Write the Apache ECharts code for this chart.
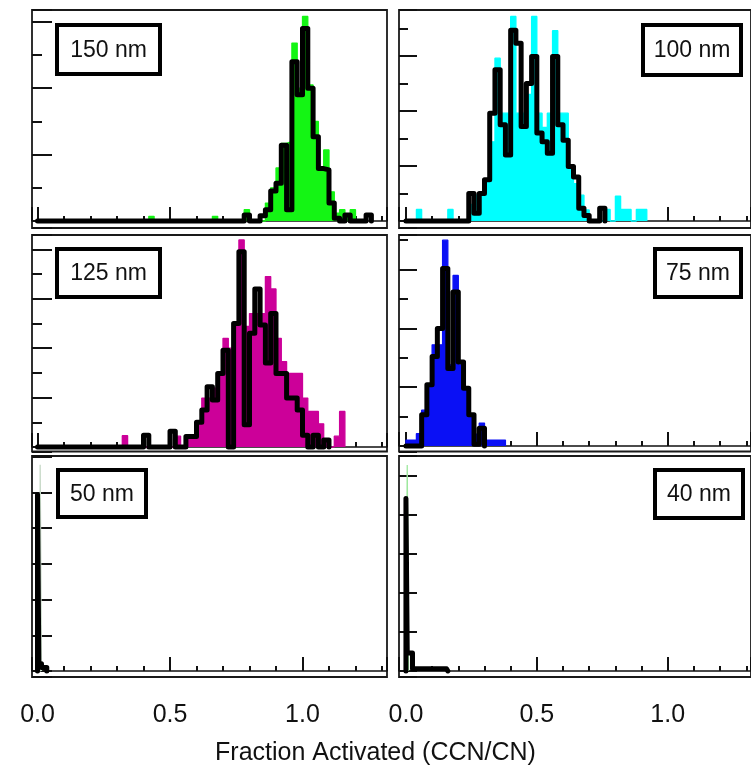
<!DOCTYPE html>
<html>
<head>
<meta charset="utf-8">
<script src="https://cdn.jsdelivr.net/npm/echarts@6/dist/echarts.min.js"></script>
<style>
html,body{margin:0;padding:0;background:#fff;}
#chart{width:751px;height:769px;}
</style>
</head>
<body>
<div id="chart"></div>
<script>
// ---------------- DATA (histogram bin values) ----------------
// Bin width in "Fraction Activated" units; bins start at 0.
const binWidth = 0.02;
const fineBinWidth = 0.005;   // narrow bins used in the 50 nm / 40 nm panels

const sizeLabels = ['150 nm', '100 nm', '125 nm', '75 nm', '50 nm', '40 nm'];
const xTickLabels = ['0.0', '0.5', '1.0'];
const xAxisTitle = 'Fraction Activated (CCN/CN)';

// 150 nm
const green150 = [0,0,0,0,0,0,0,0,0,0, 0,0,0,0,0,0,0,0,0,0, 0,0.7,0,0,0,0,0,0,0,0,
  0,0,0,0.7,0,0,0,0,0,1.7, 0,0,0,2.7,5,8,11.7,12,26.8,20,
  30.8,20.5,15,8,10.7,4.4,1.2,1.7,0.5,1.7, 0];
const black150 = [0,0,0,0,0,0,0,0,0,0, 0,0,0,0,0,0,0,0,0,0, 0,0,0,0,0,0,0,0,0,0,
  0,0,0,0,0,0,0,0,0,0.9, 0,0,0.8,1.7,4.5,5.7,11.4,1.7,24,19,
  29,20,12.7,7.9,7.7,2.7,0.4,0,0.9,0, 0,0,0.9];

// 100 nm
const cyan100 = [0,0,2.1,0,0,0,0,0,2.1,0, 0,0,3,4.7,5.3,7.5,14.4,29.6,19.6,19.6,
  37.2,19.6,19.6,23,37.2,19.6,17,19.6,34.6,19.6, 19.6,9.9,6.8,4.7,2,0,0,0,2.1,0,
  4.5,2.1,2.1,0,2.1,2.1];
const black100 = [0,0,0,0,0,0,0,0,0,0, 0,0,5,1.4,5,7.5,19.6,27.5,17.5,12,
  34.7,32.3,17.2,25,29.9,16,14.4,12.3,29.9,17.5, 14.7,9.9,8,2.3,1,0,0,2.3];

// 125 nm
const magenta125 = [0,0,0,0,0,0,0,0,0,0, 0,0,0,0,0,0,2.3,0,0,0,
  0,0,0,0,0,0,2.2,0,2.2,2.2, 4.6,9.9,9.9,11.9,14.9,22,20,24.7,41.9,24.4,
  27,27,27,34.5,32,22,17.3,14.9,14.9,14.9, 9.9,7.2,7.2,4.7,1.4,0,2.2,7.2];
const black125 = [0,0,0,0,0,0,0,0,0,0, 0,0,0,0,0,0,0,0,0,0,
  2.4,0,0,0,0,3.2,0,0,2.1,2.1, 5,7.5,12.2,9.5,14.9,19.6,0,25,39.5,4.5,
  23,32,24.7,17,27,14.9,14.9,9.9,9.9,7.5, 2.4,0,2.4,0,1.4];

// 75 nm
const blue75 = [1,1,2.1,6.1,10.4,17.2,17.2,35,13.8,29, 13.8,10,5,2,3.9,1,1,1,1];
const black75 = [0,0,0,5.3,10.4,15.2,20,30.2,13.2,26.2, 14.3,9.8,5.3,0.3,3];

// 50 nm (fine bins)
const grey50 = [0,0,28.9];
const black50 = [24.7,1,1,0.5,0.5,0.5,0.5];

// 40 nm (fine bins)
const green40 = [0,26.4];
const black40 = [22.1,2.3,2.3,2.3,2.3, 0.3,0.3,0.3,0.3,0.3,0.3,0.3,0.3,0.3,0.3,
  0.3,0.3,0.3,0.3,0.3,0.3,0.3,0.3,0.3,0.3, 0.3,0.3,0.3,0.3,0.3,0.3,0.3];

// ---------------- LAYOUT / STYLE ----------------
const FONT = "'Liberation Sans', Arial, Helvetica, sans-serif";
const panels = [
  { grid:{left:32, top:10, width:355, height:218}, x:[-0.0208,1.3189], y:[-1.054,31.78], yStep:10, yMinor:2,
    fill:green150, line:black150, w:binWidth, color:'#14f514', label:0,
    box:{x:57,y:25,w:103,h:49} },
  { grid:{left:399, top:10, width:355, height:218}, x:[-0.0265,1.318], y:[-1.273,38.36], yStep:10, yMinor:2,
    fill:cyan100, line:black100, w:binWidth, color:'#00ffff', label:1, tickLen:18,
    box:{x:643,y:25,w:98,h:50} },
  { grid:{left:32, top:235, width:355, height:216.5}, x:[-0.0208,1.3189], y:[-0.911,42.91], yStep:10, yMinor:2,
    fill:magenta125, line:black125, w:binWidth, color:'#cc0099', label:2,
    box:{x:57,y:249,w:103,h:48} },
  { grid:{left:399, top:235, width:355, height:216.5}, x:[-0.0265,1.318], y:[-0.935,35.88], yStep:10, yMinor:2,
    fill:blue75, line:black75, w:binWidth, color:'#0a10f5', label:3, tickLen:18,
    box:{x:655,y:249,w:86,h:48} },
  { grid:{left:32, top:456, width:355, height:221}, x:[-0.0208,1.3189], y:[-0.84,30.11], yStep:5, yMinor:0,
    fill:grey50, line:black50, w:fineBinWidth, color:'#c6d8c6', label:4, bottom:true,
    box:{x:58,y:470,w:88,h:47} },
  { grid:{left:399, top:456, width:355, height:221}, x:[-0.0265,1.318], y:[-0.77,27.56], yStep:5, yMinor:0,
    fill:green40, line:black40, w:fineBinWidth, color:'#9ee89e', label:5, bottom:true, tickLen:18,
    box:{x:655,y:470,w:88,h:48} }
];

function stepPoints(start, width, vals) {
  const pts = [[start, 0]];
  vals.forEach(function (v, i) { pts.push([+(start + i * width).toFixed(5), v]); });
  pts.push([+(start + vals.length * width).toFixed(5), 0]);
  return pts;
}

const grids = [], xAxes = [], yAxes = [], series = [], graphics = [];
panels.forEach(function (p, i) {
  grids.push(Object.assign({ show:true, borderColor:'#1a1a1a', borderWidth:1.8, backgroundColor:'#fff' }, p.grid));
  xAxes.push({
    type:'value', gridIndex:i, min:p.x[0], max:p.x[1], minInterval:0.5, maxInterval:0.5,
    axisLine:{ show:true, onZero:true, lineStyle:{ color:'#111', width:1.5 } },
    axisTick:{ show:true, inside:true, length:14, lineStyle:{ color:'#111', width:2 } },
    minorTick:{ show:true, splitNumber:5, length:5, lineStyle:{ color:'#111', width:2 } },
    splitLine:{ show:false }, minorSplitLine:{ show:false },
    axisLabel:{
      show: !!p.bottom, fontSize:25, fontFamily:FONT, color:'#111', margin:26,
      showMinLabel:false, showMaxLabel:false,
      formatter:function (v) {
        const k = Math.round(v * 2);
        return Math.abs(v * 2 - k) < 1e-6 && k >= 0 && k < xTickLabels.length ? xTickLabels[k] : '';
      }
    }
  });
  const tl = p.tickLen || 20;
  yAxes.push({
    type:'value', gridIndex:i, min:p.y[0], max:p.y[1], minInterval:p.yStep, maxInterval:p.yStep,
    axisLine:{ show:false, onZero:false },
    axisTick:{ show:true, inside:true, length:tl, lineStyle:{ color:'#111', width:2 } },
    minorTick:{ show:p.yMinor > 0, splitNumber:p.yMinor || 2, length:tl / 2, lineStyle:{ color:'#111', width:2 } },
    splitLine:{ show:false }, minorSplitLine:{ show:false },
    axisLabel:{ show:false }
  });
  series.push({
    type:'line', xAxisIndex:i, yAxisIndex:i, step:'end', symbol:'none', animation:false,
    data: stepPoints(0, p.w, p.fill),
    lineStyle:{ color:p.color, width:1.3 }, itemStyle:{ color:p.color },
    areaStyle:{ color:p.color, opacity:1 }, z:2
  });
  series.push({
    type:'line', xAxisIndex:i, yAxisIndex:i, step:'end', symbol:'none', animation:false,
    data: stepPoints(0, p.w, p.line),
    lineStyle:{ color:'#000', width:5, cap:'round', join:'round' }, itemStyle:{ color:'#000' }, z:3
  });
  graphics.push({
    type:'rect', z:10,
    shape:{ x:p.box.x, y:p.box.y, width:p.box.w, height:p.box.h },
    style:{ fill:'#fff', stroke:'#000', lineWidth:4 }
  });
  graphics.push({
    type:'text', z:11,
    style:{ text:sizeLabels[p.label], x:p.box.x + p.box.w / 2, y:p.box.y + p.box.h / 2 + 1,
      align:'center', verticalAlign:'middle', fontSize:23, fontFamily:FONT, fill:'#111' }
  });
});

const chart = echarts.init(document.getElementById('chart'), null, { renderer:'canvas' });
chart.setOption({
  backgroundColor:'#fff',
  animation:false,
  title:{ text:xAxisTitle, left:'center', top:736,
    textStyle:{ fontSize:25, fontWeight:'normal', fontFamily:FONT, color:'#111' } },
  grid:grids, xAxis:xAxes, yAxis:yAxes, series:series, graphic:graphics
});
</script>
</body>
</html>
